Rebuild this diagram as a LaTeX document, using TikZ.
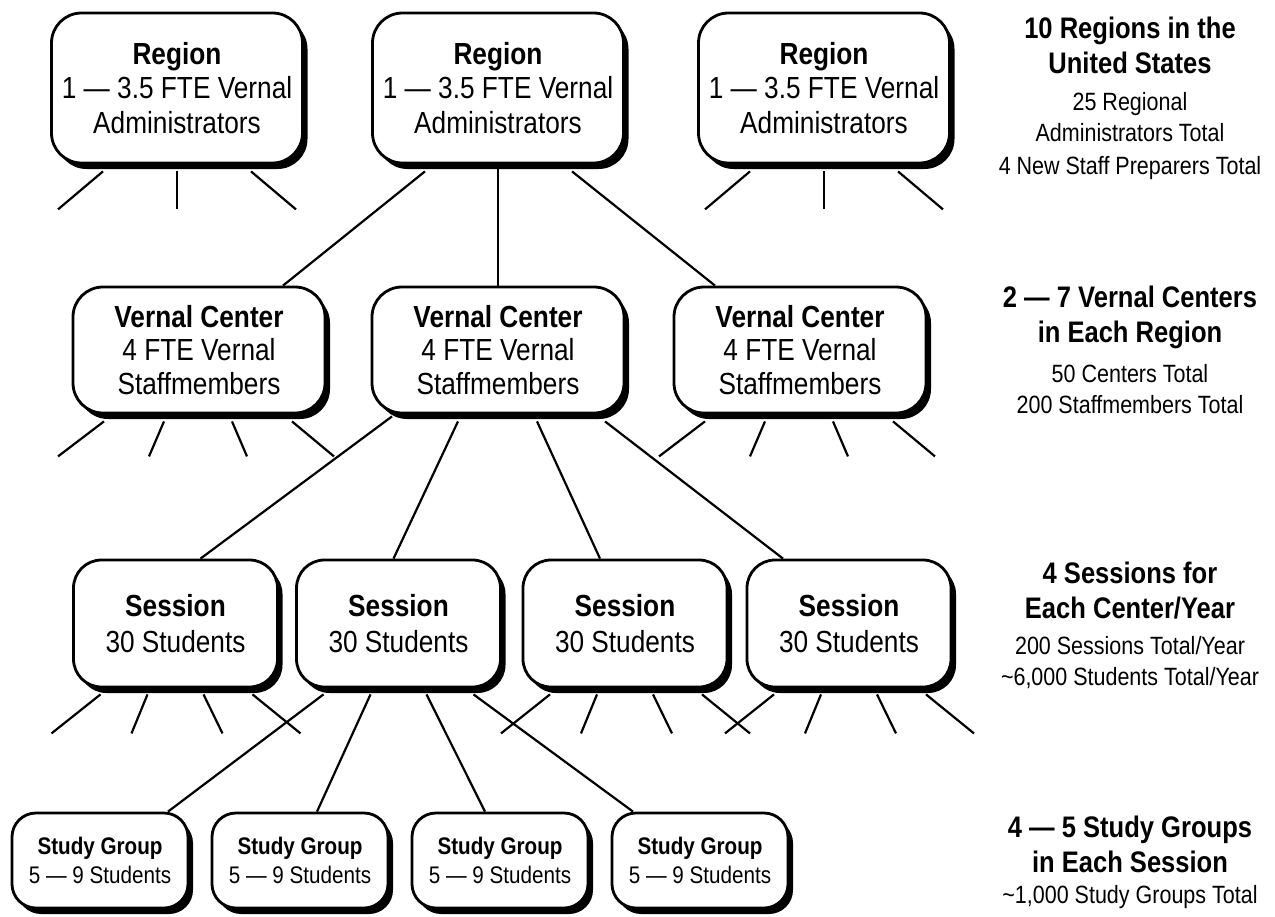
\documentclass[tikz,border=0pt]{standalone}
\usepackage{fontspec}
\setmainfont{Liberation Sans}[FakeStretch=0.86]
\usetikzlibrary{calc,shadows,backgrounds}
\begin{document}
\begin{tikzpicture}[x=1bp,y=-1bp,
  basebox/.style={draw, line width=2.8bp, fill=white, align=center, inner sep=0pt,
    drop shadow={shadow xshift=5bp, shadow yshift=-6bp, fill=black, opacity=1}},
  rbox/.style={basebox, rounded corners=30bp, minimum width=251bp, minimum height=150bp,
    font=\fontsize{30.5bp}{34.5bp}\selectfont},
  vbox/.style={basebox, rounded corners=30bp, minimum width=252bp, minimum height=126bp,
    font=\fontsize{30.5bp}{33.5bp}\selectfont},
  sbox/.style={basebox, rounded corners=28bp, minimum width=204bp, minimum height=127bp,
    font=\fontsize{30.5bp}{36bp}\selectfont},
  gbox/.style={basebox, rounded corners=24bp, minimum width=176bp, minimum height=95bp,
    font=\fontsize{24bp}{29bp}\selectfont},
  ttl/.style={align=center, inner sep=0pt, font=\bfseries\fontsize{29.7bp}{35bp}\selectfont},
  sub/.style={align=center, inner sep=0pt, font=\fontsize{25bp}{31bp}\selectfont},
  conn/.style={draw, line width=2.2bp}
]
\useasboundingbox (0,0) rectangle (1275,917);

% Regions
\node[rbox] (r1) at (177,88) {\textbf{Region}\\1 — 3.5 FTE Vernal\\Administrators};
\node[rbox] (r2) at (498,88) {\textbf{Region}\\1 — 3.5 FTE Vernal\\Administrators};
\node[rbox] (r3) at (824,88) {\textbf{Region}\\1 — 3.5 FTE Vernal\\Administrators};

% Vernal centers
\node[vbox] (vc1) at (199,350) {\textbf{Vernal Center}\\4 FTE Vernal\\Staffmembers};
\node[vbox] (vc2) at (498,350) {\textbf{Vernal Center}\\4 FTE Vernal\\Staffmembers};
\node[vbox] (vc3) at (800,350) {\textbf{Vernal Center}\\4 FTE Vernal\\Staffmembers};

% Sessions
\node[sbox] (s1) at (175.5,623.5) {\textbf{Session}\\30 Students};
\node[sbox] (s2) at (398.5,623.5) {\textbf{Session}\\30 Students};
\node[sbox] (s3) at (625,623.5) {\textbf{Session}\\30 Students};
\node[sbox] (s4) at (849,623.5) {\textbf{Session}\\30 Students};

% Study groups
\node[gbox] (g1) at (100,860.5) {\textbf{Study Group}\\5 — 9 Students};
\node[gbox] (g2) at (300,860.5) {\textbf{Study Group}\\5 — 9 Students};
\node[gbox] (g3) at (500,860.5) {\textbf{Study Group}\\5 — 9 Students};
\node[gbox] (g4) at (700,860.5) {\textbf{Study Group}\\5 — 9 Students};

% Right column
\node[ttl] (t1) at (1130,45.5) {10 Regions in the\\United States};
\node[sub] (n1) at (1130,136.5) {25 Regional\\Administrators Total\\[2bp]4 New Staff Preparers Total};
\node[ttl] (t2) at (1130,317.5) {2 — 7 Vernal Centers\\in Each Region};
\node[sub] (n2) at (1130,389) {50 Centers Total\\200 Staffmembers Total};
\node[ttl] (t3) at (1130,591) {4 Sessions for\\Each Center/Year};
\node[sub] (n3) at (1130,663) {200 Sessions Total/Year\\\textasciitilde6,000 Students Total/Year};
\node[ttl] (t4) at (1130,844) {4 — 5 Study Groups\\in Each Session};
\node[sub] (n4) at (1130,897) {\textasciitilde1,000 Study Groups Total};

\begin{pgfonlayer}{background}
  % region stubs
  \foreach \n in {r1,r3}{
    \path[conn] ($(\n.south)+(-74,7)$) -- ++(-45,38);
    \path[conn] ($(\n.south)+(0,7)$) -- ++(0,38);
    \path[conn] ($(\n.south)+(74,7)$) -- ++(45,38);
  }
  % region -> centers
  \path[conn] ($(r2.south)+(-73,7)$) -- ($(vc1.north)+(84,0)$);
  \path[conn] (r2.south) -- (vc2.north);
  \path[conn] ($(r2.south)+(74,7)$) -- ($(vc3.north)+(-85,0)$);
  % center stubs
  \foreach \n in {vc1,vc3}{
    \foreach \sx/\ex in {-95/-46,-35/-15,33/15,93/42}{
      \path[conn] ($(\n.south)+(\sx,7)$) -- ++(\ex,35);
    }
  }
  % center -> sessions
  \path[conn] ($(vc2.south)+(-106,2)$) -- ($(s1.north)+(25,0)$);
  \path[conn] ($(vc2.south)+(-40,7)$) -- ($(s2.north)+(-5,0)$);
  \path[conn] ($(vc2.south)+(39,7)$) -- ($(s3.north)+(-25,0)$);
  \path[conn] ($(vc2.south)+(107,7)$) -- ($(s4.north)+(-66,0)$);
  % session stubs
  \foreach \n in {s1,s3,s4}{
    \foreach \sx/\ex in {-75/-49,-28/-16,28/19,77/48}{
      \path[conn] ($(\n.south)+(\sx,6)$) -- ++(\ex,39);
    }
  }
  % session -> study groups
  \path[conn] ($(s2.south)+(-75,6)$) -- ($(g1.north)+(68,0)$);
  \path[conn] ($(s2.south)+(-28,6)$) -- ($(g2.north)+(17,0)$);
  \path[conn] ($(s2.south)+(28,6)$) -- ($(g3.north)+(-15,0)$);
  \path[conn] ($(s2.south)+(75,6)$) -- ($(g4.north)+(-67,0)$);
\end{pgfonlayer}
\end{tikzpicture}
\end{document}
